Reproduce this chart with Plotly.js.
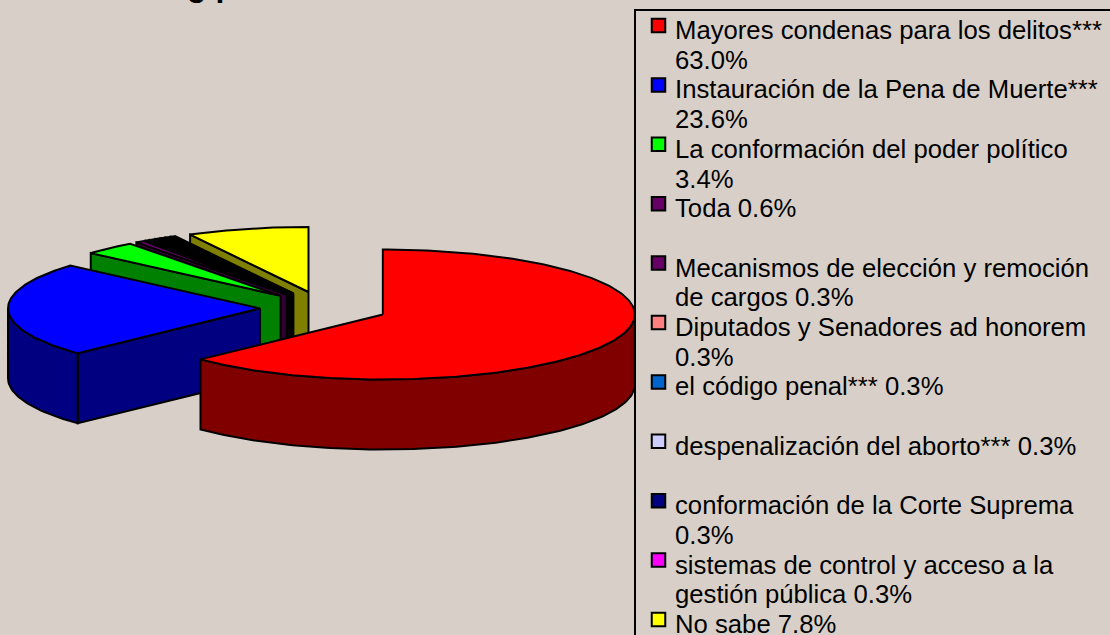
<!DOCTYPE html>
<html>
<head>
<meta charset="utf-8">
<script src="https://cdn.plot.ly/plotly-3.0.1.min.js"></script>
<style>html,body{margin:0;padding:0;background:#d8d0c8;overflow:hidden}</style>
</head>
<body>
<div id="chart" style="width:1110px;height:635px"></div>
<script>
// ---- data -----
const categories = [
  "Mayores condenas para los delitos***",
  "Instauración de la Pena de Muerte***",
  "La conformación del poder político",
  "Toda",
  "Mecanismos de elección y remoción de cargos",
  "Diputados y Senadores ad honorem",
  "el código penal***",
  "despenalización del aborto***",
  "conformación de la Corte Suprema",
  "sistemas de control y acceso a la gestión pública",
  "No sabe"
];
const values = [63.0, 23.6, 3.4, 0.6, 0.3, 0.3, 0.3, 0.3, 0.3, 0.3, 7.8];
const legendLines = [
  ["Mayores condenas para los delitos***", "63.0%"],
  ["Instauración de la Pena de Muerte***", "23.6%"],
  ["La conformación del poder político", "3.4%"],
  ["Toda 0.6%"],
  ["Mecanismos de elección y remoción", "de cargos 0.3%"],
  ["Diputados y Senadores ad honorem", "0.3%"],
  ["el código penal*** 0.3%"],
  ["despenalización del aborto*** 0.3%"],
  ["conformación de la Corte Suprema", "0.3%"],
  ["sistemas de control y acceso a la", "gestión pública 0.3%"],
  ["No sabe 7.8%"]
];
const legendColors = ["#ff0000","#0000ff","#00ff00","#660066","#660066","#ff8080","#0066cc","#ccccff","#000080","#ff00ff","#ffff00"];
const topColors    = ["#ff0000","#0000ff","#00ff00","#660066","#660066","#000000","#000000","#000000","#000000","#000000","#ffff00"];
const sideColors   = ["#800000","#000080","#008000","#330033","#330033","#000000","#000000","#000000","#000000","#000000","#808000"];

// ---- pie projection -----
const CX = 324, CY = 308, RX = 252, RY = 65, EXPLODE = 64, DEPTH = 70;
const total = values.reduce((a, b) => a + b, 0);
const rad = d => d * Math.PI / 180;

const traces = [];
const slices = [];
let acc = 0;
values.forEach((v, i) => {
  const start = acc / total * 360;
  acc += v;
  slices.push({i, start, end: acc / total * 360});
});

function rimPoint(s, deg, drop) {
  return [s.ax + RX * Math.sin(rad(deg)), s.ay - RY * Math.cos(rad(deg)) + drop];
}
function poly(points, color, name) {
  const xs = points.map(p => p[0]).concat(points[0][0]);
  const ys = points.map(p => p[1]).concat(points[0][1]);
  traces.push({type: "scatter", mode: "lines", x: xs, y: ys, fill: "toself", fillcolor: color,
    line: {color: "#000000", width: 2}, name, showlegend: false, hoverinfo: "name"});
}

// painter's order: back slices first
slices.slice().reverse().forEach(s => {
  const mid = (s.start + s.end) / 2;
  s.ax = CX + EXPLODE * Math.sin(rad(mid));
  s.ay = CY - EXPLODE * (RY / RX) * Math.cos(rad(mid));
  const name = categories[s.i];
  // cut face at the start edge, visible for slices on the left half
  if (s.start >= 180) {
    const p = rimPoint(s, s.start, 0);
    poly([[s.ax, s.ay], p, [p[0], p[1] + DEPTH], [s.ax, s.ay + DEPTH]], sideColors[s.i], name);
  }
  // outer rim wall, visible between 90 and 270 degrees
  const a0 = Math.max(s.start, 90), a1 = Math.min(s.end, 270);
  if (a1 > a0) {
    const upper = [], lower = [];
    for (let d = a0; d < a1; d += 1) { upper.push(rimPoint(s, d, 0)); lower.push(rimPoint(s, d, DEPTH)); }
    upper.push(rimPoint(s, a1, 0)); lower.push(rimPoint(s, a1, DEPTH));
    poly(upper.concat(lower.reverse()), sideColors[s.i], name);
  }
  // top surface
  const top = [[s.ax, s.ay]];
  for (let d = s.start; d < s.end; d += 1) top.push(rimPoint(s, d, 0));
  top.push(rimPoint(s, s.end, 0));
  poly(top, topColors[s.i], name);
});

// ---- legend -----
const LEG_TOP = 30, LEG_PITCH = 29.7, SWATCH_LIFT = 4.5, LEG_SW_X = 658.5, LEG_TX_X = 674;
const annotations = [];
legendLines.forEach((lines, i) => {
  lines.forEach((t, j) => {
    annotations.push({xref: "x", yref: "y", x: LEG_TX_X, y: LEG_TOP + LEG_PITCH * (2 * i + j),
      text: t, showarrow: false, xanchor: "left", yanchor: "middle", align: "left",
      borderpad: 0, font: {family: "Liberation Sans, Arial, sans-serif", size: 25.7, color: "#000000"}});
  });
  traces.push({type: "scatter", mode: "markers", x: [LEG_SW_X], y: [LEG_TOP + LEG_PITCH * 2 * i - SWATCH_LIFT],
    marker: {symbol: "square", size: 13.5, color: legendColors[i], line: {color: "#000000", width: 2}},
    name: categories[i], showlegend: false, hoverinfo: "name", cliponaxis: false});
});

// clipped fragment of the title visible at the top edge
annotations.push({xref: "paper", yref: "paper", x: 186 / 1110, y: 1 + 14.5 / 635, text: "<b>g p</b>", showarrow: false,
  xanchor: "left", yanchor: "middle", borderpad: 0,
  font: {family: "Liberation Sans, Arial, sans-serif", size: 32, color: "#000000"}});

const hiddenAxis = {visible: false, fixedrange: true, showgrid: false, zeroline: false};
const layout = {
  width: 1110, height: 635,
  margin: {l: 0, r: 0, t: 0, b: 0},
  paper_bgcolor: "#d8d0c8", plot_bgcolor: "#d8d0c8",
  xaxis: Object.assign({range: [0, 1110]}, hiddenAxis),
  yaxis: Object.assign({range: [635, 0]}, hiddenAxis),
  showlegend: false,
  annotations,
  shapes: [{type: "rect", layer: "below", xref: "x", yref: "y", x0: 635, x1: 1140, y0: 10, y1: 670,
    line: {color: "#000000", width: 2}, fillcolor: "rgba(0,0,0,0)"}]
};
Plotly.newPlot("chart", traces, layout, {displayModeBar: false, staticPlot: true});
</script>
</body>
</html>
